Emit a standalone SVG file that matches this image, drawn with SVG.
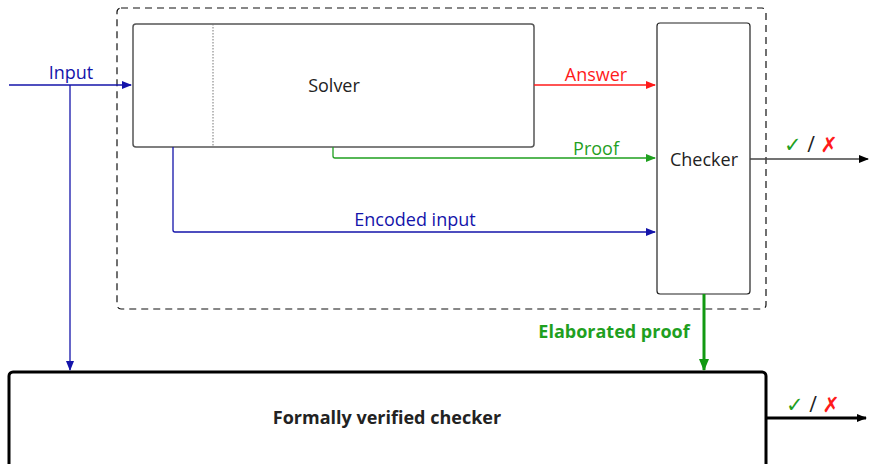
<svg xmlns="http://www.w3.org/2000/svg" width="870" height="464" viewBox="0 0 870 464">
<style>
text{font-family:"Open Sans","DejaVu Sans",sans-serif;font-size:18px;text-anchor:middle}
.b{font-weight:bold}
.blue{fill:#1414aa}.red{fill:#ff1a1a}.green{fill:#1fa01f}.dk{fill:#222}
.ck{font-size:21px}
.ln{fill:none;stroke-width:1.3}
</style>
<defs>
<marker id="ab" markerWidth="10" markerHeight="8" refX="9" refY="4" orient="auto" markerUnits="userSpaceOnUse"><path d="M0,0L10,4L0,8z" fill="#1414aa"/></marker>
<marker id="ar" markerWidth="10" markerHeight="8" refX="9" refY="4" orient="auto" markerUnits="userSpaceOnUse"><path d="M0,0L10,4L0,8z" fill="#ff1a1a"/></marker>
<marker id="ag" markerWidth="10" markerHeight="8" refX="9" refY="4" orient="auto" markerUnits="userSpaceOnUse"><path d="M0,0L10,4L0,8z" fill="#1fa01f"/></marker>
<marker id="ag2" markerWidth="12" markerHeight="10" refX="11" refY="5" orient="auto" markerUnits="userSpaceOnUse"><path d="M0,0L12,5L0,10z" fill="#119911"/></marker>
<marker id="ak" markerWidth="10" markerHeight="8" refX="9" refY="4" orient="auto" markerUnits="userSpaceOnUse"><path d="M0,0L10,4L0,8z" fill="#000"/></marker>
</defs>
<g id="frame"><rect x="117" y="8" width="649" height="301" rx="4" fill="none" stroke="#111" stroke-width="1.2" stroke-dasharray="7,5"/></g>
<g id="solver">
<rect x="133" y="24" width="401" height="123" rx="3" fill="#fff" stroke="#555" stroke-width="1.5"/>
<line x1="213" y1="24" x2="213" y2="147" stroke="#777" stroke-width="1" stroke-dasharray="1.5,1.5"/>
<text x="334" y="92" class="dk">Solver</text>
</g>
<g id="checker">
<rect x="657" y="23" width="93" height="271" rx="3" fill="#fff" stroke="#222" stroke-width="1.2"/>
<text x="704" y="166" class="dk">Checker</text>
</g>
<g id="verified">
<rect x="9" y="372" width="757" height="100" rx="4" fill="#fff" stroke="#000" stroke-width="3"/>
<text x="387" y="424" class="b dk">Formally verified checker</text>
</g>
<g id="connectors">
<path class="ln" d="M9,85H131" stroke="#1414aa" marker-end="url(#ab)"/>
<path class="ln" d="M70,85V370" stroke="#1414aa" marker-end="url(#ab)"/>
<path class="ln" d="M534,85H655" stroke="#ff1a1a" marker-end="url(#ar)"/>
<path class="ln" d="M333,147V156a2,2 0 0 0 2,2H655" stroke="#1fa01f" marker-end="url(#ag)"/>
<path class="ln" d="M173,147V230a2,2 0 0 0 2,2H655" stroke="#1414aa" marker-end="url(#ab)"/>
<path class="ln" d="M750,159H868" stroke="#444" marker-end="url(#ak)"/>
<path fill="none" d="M704,294V370" stroke="#119911" stroke-width="3" marker-end="url(#ag2)"/>
<path fill="none" d="M766,418H866" stroke="#000" stroke-width="3" marker-end="url(#ak)"/>
<text x="71" y="79" class="blue">Input</text>
<text x="596" y="81" class="red">Answer</text>
<text x="596" y="155" class="green">Proof</text>
<text x="415" y="226" class="blue">Encoded input</text>
<text x="614" y="338" class="b green">Elaborated proof</text>
<text x="811" y="152" class="ck"><tspan class="green">✓</tspan><tspan class="dk"> / </tspan><tspan class="red">✗</tspan></text>
<text x="813" y="412" class="ck"><tspan class="green">✓</tspan><tspan class="dk"> / </tspan><tspan class="red">✗</tspan></text>
</g>
</svg>
